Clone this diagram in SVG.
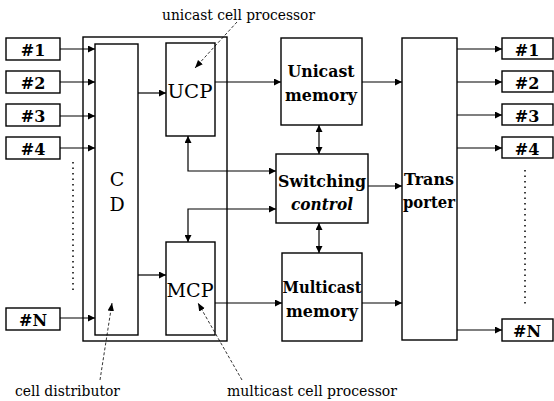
<svg xmlns="http://www.w3.org/2000/svg" width="554" height="401" viewBox="0 0 554 401">
<defs>
<marker id="ah" viewBox="0 0 10 10" refX="10" refY="5" markerWidth="7" markerHeight="7" markerUnits="userSpaceOnUse" orient="auto-start-reverse">
<path d="M0,0 L10,5 L0,10 z" fill="#000"/>
</marker>
<marker id="ahs" viewBox="0 0 10 10" refX="10" refY="5" markerWidth="8" markerHeight="8" markerUnits="userSpaceOnUse" orient="auto">
<path d="M0,1 L10,5 L0,9 z" fill="#000"/>
</marker>
</defs>
<style>
.box{fill:#fff;stroke:#000;stroke-width:1.4}
.ln{fill:none;stroke:#000;stroke-width:1.2}
.dash{fill:none;stroke:#000;stroke-width:0.8;stroke-dasharray:3 2}
.dot{fill:none;stroke:#000;stroke-width:1.5;stroke-dasharray:1.5 4}
.lbl{font-family:"DejaVu Serif","Liberation Serif",serif;font-weight:bold;font-size:16px;text-anchor:middle}
.blk{font-family:"DejaVu Serif","Liberation Serif",serif;font-weight:bold;font-size:17px;text-anchor:middle}
.reg{font-family:"DejaVu Serif","Liberation Serif",serif;font-weight:normal;font-size:19px;text-anchor:middle}
.it{font-style:italic}
.ann{font-family:"DejaVu Serif","Liberation Serif",serif;font-size:14px}
</style>
<rect width="554" height="401" fill="#fff"/>
<g id="outer"><rect class="box" x="83" y="37" width="144" height="304"/></g>
<g id="in1"><rect class="box" x="6" y="38" width="54" height="22"/><text class="lbl" x="33" y="56">#1</text></g>
<g id="in2"><rect class="box" x="6" y="71" width="54" height="22"/><text class="lbl" x="33" y="89">#2</text></g>
<g id="in3"><rect class="box" x="6" y="104" width="54" height="22"/><text class="lbl" x="33" y="122">#3</text></g>
<g id="in4"><rect class="box" x="6" y="137" width="54" height="22"/><text class="lbl" x="33" y="155">#4</text></g>
<g id="inN"><rect class="box" x="6" y="308" width="54" height="22"/><text class="lbl" x="33" y="326">#N</text></g>
<g id="cd"><rect class="box" x="95" y="44" width="43" height="291"/><text class="reg" x="117" y="186">C</text><text class="reg" x="117" y="211">D</text></g>
<g id="ucp"><rect class="box" x="166" y="43" width="49" height="93"/><text class="reg" x="190" y="98" font-size="20" textLength="45" lengthAdjust="spacingAndGlyphs">UCP</text></g>
<g id="mcp"><rect class="box" x="166" y="242" width="49" height="93"/><text class="reg" x="190" y="297" textLength="47" lengthAdjust="spacingAndGlyphs">MCP</text></g>
<g id="umem"><rect class="box" x="281" y="38" width="81" height="87"/><text class="blk" x="321" y="77" textLength="67" lengthAdjust="spacingAndGlyphs">Unicast</text><text class="blk" x="321" y="101" textLength="72" lengthAdjust="spacingAndGlyphs">memory</text></g>
<g id="sw"><rect class="box" x="276" y="154" width="92" height="69"/><text class="blk" x="322" y="187" textLength="88" lengthAdjust="spacingAndGlyphs">Switching</text><text class="blk it" x="322" y="210" textLength="62" lengthAdjust="spacingAndGlyphs">control</text></g>
<g id="mmem"><rect class="box" x="282" y="253" width="80" height="88"/><text class="blk" x="322" y="293" textLength="79" lengthAdjust="spacingAndGlyphs">Multicast</text><text class="blk" x="322" y="317" textLength="72" lengthAdjust="spacingAndGlyphs">memory</text></g>
<g id="tp"><rect class="box" x="402" y="38" width="55" height="302"/><text class="blk" x="429" y="185" textLength="50" lengthAdjust="spacingAndGlyphs">Trans</text><text class="blk" x="429" y="208" textLength="52" lengthAdjust="spacingAndGlyphs">porter</text></g>
<g id="out1"><rect class="box" x="502" y="38" width="51" height="21"/><text class="lbl" x="527" y="56">#1</text></g>
<g id="out2"><rect class="box" x="502" y="71" width="51" height="21"/><text class="lbl" x="527" y="89">#2</text></g>
<g id="out3"><rect class="box" x="502" y="104" width="51" height="21"/><text class="lbl" x="527" y="122">#3</text></g>
<g id="out4"><rect class="box" x="502" y="137" width="51" height="21"/><text class="lbl" x="527" y="155">#4</text></g>
<g id="outN"><rect class="box" x="502" y="319" width="51" height="22"/><text class="lbl" x="527" y="337">#N</text></g>
<g id="connectors">
<path class="ln" marker-end="url(#ah)" d="M60,49 H95"/>
<path class="ln" marker-end="url(#ah)" d="M60,82 H95"/>
<path class="ln" marker-end="url(#ah)" d="M60,116 H95"/>
<path class="ln" marker-end="url(#ah)" d="M60,148 H95"/>
<path class="ln" marker-end="url(#ah)" d="M60,318 H95"/>
<path class="ln" marker-end="url(#ah)" d="M138,93 H166"/>
<path class="ln" marker-end="url(#ah)" d="M138,275 H166"/>
<path class="ln" marker-end="url(#ah)" d="M215,82 H281"/>
<path class="ln" marker-end="url(#ah)" d="M215,303 H282"/>
<path class="ln" marker-start="url(#ah)" marker-end="url(#ah)" d="M188,136 V171 H276"/>
<path class="ln" marker-start="url(#ah)" marker-end="url(#ah)" d="M276,209 H188 V242"/>
<path class="ln" marker-start="url(#ah)" marker-end="url(#ah)" d="M319,125 V154"/>
<path class="ln" marker-start="url(#ah)" marker-end="url(#ah)" d="M319,223 V253"/>
<path class="ln" marker-end="url(#ah)" d="M362,82 H402"/>
<path class="ln" marker-end="url(#ah)" d="M368,186 H402"/>
<path class="ln" marker-end="url(#ah)" d="M362,303 H402"/>
<path class="ln" marker-end="url(#ah)" d="M457,49 H502"/>
<path class="ln" marker-end="url(#ah)" d="M457,82 H502"/>
<path class="ln" marker-end="url(#ah)" d="M457,115 H502"/>
<path class="ln" marker-end="url(#ah)" d="M457,148 H502"/>
<path class="ln" marker-end="url(#ah)" d="M457,330 H502"/>
<path class="dot" d="M73,162 V290"/>
<path class="dot" d="M525,170 V304"/>
<path class="dash" marker-end="url(#ahs)" d="M237,22 L195,68"/>
<path class="dash" marker-end="url(#ahs)" d="M100,380 L112,303"/>
<path class="dash" marker-end="url(#ahs)" d="M242,380 L198,303"/>
</g>
<g id="labels">
<text class="ann" x="162" y="20" textLength="153" lengthAdjust="spacingAndGlyphs">unicast cell processor</text>
<text class="ann" x="15" y="396" textLength="105" lengthAdjust="spacingAndGlyphs">cell distributor</text>
<text class="ann" x="227" y="396" textLength="170" lengthAdjust="spacingAndGlyphs">multicast cell processor</text>
</g>
</svg>
